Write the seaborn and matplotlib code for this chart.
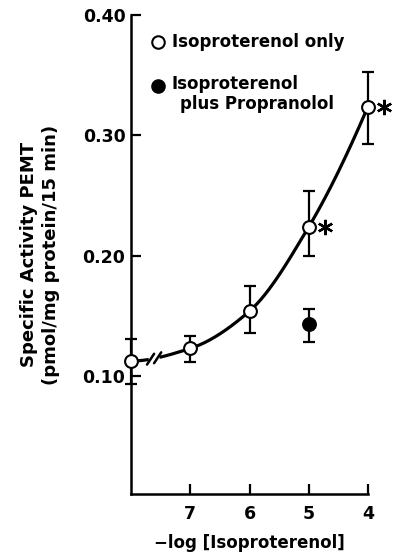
import numpy as np
import pandas as pd
import matplotlib
matplotlib.use("Agg")
import matplotlib.pyplot as plt
import matplotlib.transforms as mtransforms
import seaborn as sns

# data
iso_x = [8, 7, 6, 5, 4]            # 8 = control (no isoproterenol)
iso_y = [0.1125, 0.123, 0.154, 0.224, 0.324]
iso_err_lo = [0.019, 0.011, 0.018, 0.024, 0.031]
iso_err_hi = [0.018, 0.010, 0.021, 0.030, 0.029]
prop_x = [5]
prop_y = [0.143]
prop_err_lo = [0.015]
prop_err_hi = [0.013]
xticks = [7, 6, 5, 4]
xticklabels = ["7", "6", "5", "4"]
yticks = [0.10, 0.20, 0.30, 0.40]
yticklabels = ["0.10", "0.20", "0.30", "0.40"]
signif_x = [5, 4]

sns.set_style("ticks")
plt.rcParams['font.family'] = ['DejaVu Sans']
plt.rcParams['font.weight'] = 'bold'
for k in ["text.color", "axes.labelcolor", "xtick.color", "ytick.color", "axes.edgecolor"]:
    plt.rcParams[k] = "black"

FONT = 12

fig = plt.figure(figsize=(3.94, 5.57), dpi=100)
ax = fig.add_axes([0.3325, 0.113, 0.934 - 0.3325, 0.973 - 0.113])


def pchip(x, y, xs):
    x = np.asarray(x, float); y = np.asarray(y, float)
    h = np.diff(x); dl = np.diff(y) / h
    n = len(x); d = np.zeros(n)
    for k in range(1, n - 1):
        if dl[k - 1] * dl[k] > 0:
            w1 = 2 * h[k] + h[k - 1]; w2 = h[k] + 2 * h[k - 1]
            d[k] = (w1 + w2) / (w1 / dl[k - 1] + w2 / dl[k])
    for i, (h0, h1, d0, d1) in [(0, (h[0], h[1], dl[0], dl[1])), (n - 1, (h[-1], h[-2], dl[-1], dl[-2]))]:
        v = ((2 * h0 + h1) * d0 - h0 * d1) / (h0 + h1)
        if np.sign(v) != np.sign(d0):
            v = 0
        elif np.sign(d0) != np.sign(d1) and abs(v) > abs(3 * d0):
            v = 3 * d0
        d[i] = v
    idx = np.clip(np.searchsorted(x, xs) - 1, 0, n - 2)
    t = (xs - x[idx]) / h[idx]
    h00 = 2 * t**3 - 3 * t**2 + 1; h10 = t**3 - 2 * t**2 + t
    h01 = -2 * t**3 + 3 * t**2; h11 = t**3 - t**2
    return h00 * y[idx] + h10 * h[idx] * d[idx] + h01 * y[idx + 1] + h11 * h[idx] * d[idx + 1]


px = np.array(iso_x[::-1], float)
py = np.array(iso_y[::-1], float)
xs1 = np.linspace(4, 7.52, 300)
xs0 = np.linspace(7.70, 8, 20)
ax.plot(xs1, pchip(px, py, xs1), color="black", lw=2.3, zorder=2, solid_capstyle="butt")
ax.plot(xs0, pchip(px, py, xs0), color="black", lw=2.3, zorder=2, solid_capstyle="butt")
# axis-break marks
for xc in [7.67, 7.55]:
    yc = float(pchip(px, py, np.array([xc]))[0])
    ax.plot([xc + 0.06, xc - 0.06], [yc - 0.0045, yc + 0.0045], color="black", lw=1.8, zorder=2)

for xx, yy, lo, hi in [(iso_x, iso_y, iso_err_lo, iso_err_hi), (prop_x, prop_y, prop_err_lo, prop_err_hi)]:
    eb = ax.errorbar(xx, yy, yerr=[lo, hi], fmt="none", ecolor="black",
                     elinewidth=1.6, capsize=4.6, capthick=1.6, zorder=3)
    for art in eb.lines[1] + eb.lines[2]:
        art.set_clip_on(False)

df_iso = pd.DataFrame({"x": iso_x, "y": iso_y})
df_prop = pd.DataFrame({"x": prop_x, "y": prop_y})
sns.scatterplot(data=df_iso, x="x", y="y", ax=ax, marker="o", s=85,
                facecolor="white", edgecolor="black", linewidth=1.5, zorder=4)
sns.scatterplot(data=df_prop, x="x", y="y", ax=ax, marker="o", s=85,
                color="black", edgecolor="black", linewidth=1.5, zorder=4)
for c in ax.collections:
    c.set_clip_on(False)

off = mtransforms.ScaledTranslation(16 / 100, 0, fig.dpi_scale_trans)
for sx in signif_x:
    sy = iso_y[iso_x.index(sx)]
    ax.plot([sx], [sy], marker=(6, 2, 0), ms=11, mew=1.7, color="black",
            transform=ax.transData + off, clip_on=False, zorder=5)

ax.set_xlim(8, 4)
ax.set_ylim(0.002, 0.40)
ax.set_xticks(xticks)
ax.set_xticklabels(xticklabels)
ax.set_yticks(yticks)
ax.set_yticklabels(yticklabels)
ax.tick_params(axis="both", direction="in", length=7, width=1.6, labelsize=12.5)
ax.tick_params(axis="y", pad=4)
ax.tick_params(axis="x", pad=8)
for s in ["top", "right"]:
    ax.spines[s].set_visible(False)
for s in ["left", "bottom"]:
    ax.spines[s].set_linewidth(1.8)
for lab in ax.get_xticklabels() + ax.get_yticklabels():
    lab.set_fontweight("bold")

ax.set_xlabel("\u2212log [Isoproterenol]", fontsize=FONT, fontweight="bold", labelpad=8)
ax.set_ylabel("Specific Activity PEMT\n(pmol/mg protein/15 min)", fontsize=13,
              fontweight="bold", labelpad=16, linespacing=1.3)

# legend
ax.plot([7.545], [0.3776], marker="o", ms=9, mfc="white", mec="black", mew=1.5, clip_on=False)
ax.text(7.31, 0.3776, "Isoproterenol only", fontsize=FONT, fontweight="bold", va="center", ha="left")
ax.plot([7.545], [0.341], marker="o", ms=9, mfc="black", mec="black", mew=1.5, clip_on=False)
ax.text(7.31, 0.343, "Isoproterenol", fontsize=FONT, fontweight="bold", va="center", ha="left")
ax.text(7.17, 0.3265, "plus Propranolol", fontsize=FONT, fontweight="bold", va="center", ha="left")

fig.savefig("out.png", dpi=100)
